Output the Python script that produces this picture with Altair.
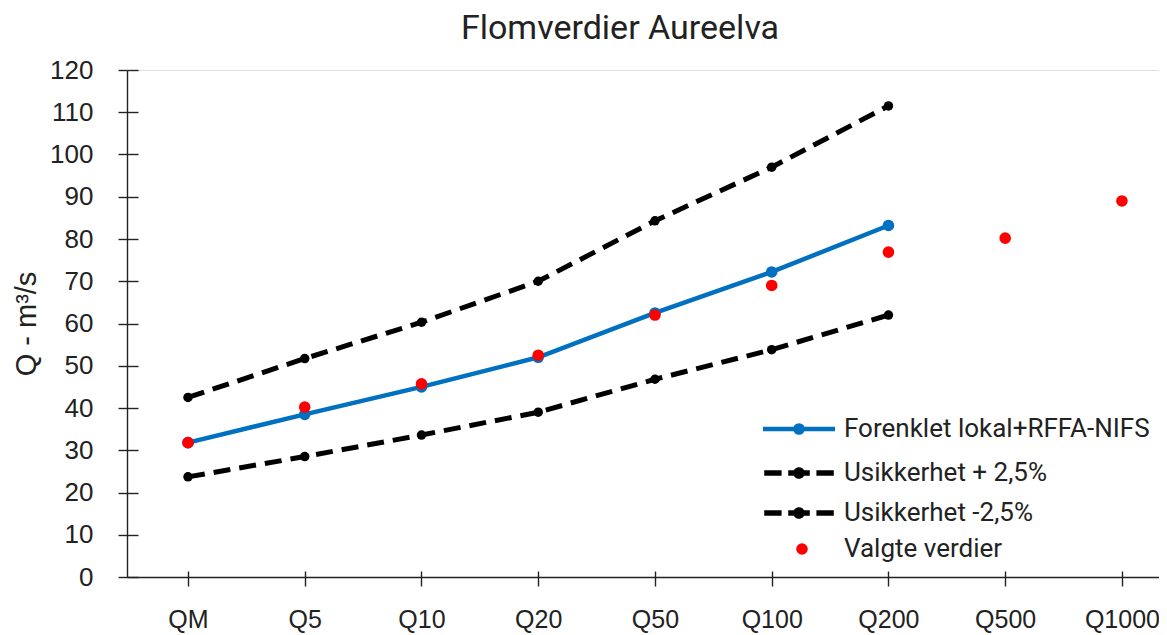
import altair as alt
import pandas as pd

categories = ["QM", "Q5", "Q10", "Q20", "Q50", "Q100", "Q200", "Q500", "Q1000"]
forenklet = [31.8, 38.5, 45.0, 52.0, 62.5, 72.2, 83.2]
usikker_pluss = [42.5, 51.7, 60.3, 70.0, 84.3, 97.0, 111.5]
usikker_minus = [23.7, 28.5, 33.6, 39.0, 46.8, 53.8, 62.0]
valgte = [31.8, 40.2, 45.7, 52.5, 62.0, 69.0, 76.9, 80.2, 89.0]

name_main = "Forenklet lokal+RFFA-NIFS"
names_unc = ["Usikkerhet + 2,5%", "Usikkerhet -2,5%"]
point_label = "Valgte verdier"
blue = "#0070C0"

main_df = pd.DataFrame({"kat": categories[:len(forenklet)], "Q": forenklet, "serie": name_main})
unc_rows = []
for name, vals in zip(names_unc, [usikker_pluss, usikker_minus]):
    for c, v in zip(categories, vals):
        unc_rows.append({"kat": c, "Q": v, "serie": name})
unc_df = pd.DataFrame(unc_rows)
pts_df = pd.DataFrame({"kat": categories, "Q": valgte, "serie": point_label})

FONT = "Liberation Sans"
LFONT = "Roboto"
AX = "#222"

xscale = alt.Scale(type="point", domain=categories, padding=0.42, align=0.622, round=False)
yscale = alt.Scale(domain=[0, 120], nice=False)
xenc = alt.X("kat:N", sort=categories, scale=xscale,
             axis=alt.Axis(title=None, labelAngle=0, labelFont=FONT, labelFontSize=25,
                           labelColor=AX, domainColor=AX, tickColor=AX,
                           tickSize=9, labelPadding=21, grid=False, domainWidth=1.4,
                           tickWidth=1.4))
yenc = alt.Y("Q:Q", scale=yscale,
             axis=alt.Axis(title="Q - m³/s", values=list(range(0, 121, 10)),
                           titleFont=FONT, titleFontSize=29, titleFontWeight="normal",
                           titleColor=AX, titlePadding=8,
                           labelFont=FONT, labelFontSize=26, labelColor=AX,
                           domainColor=AX, tickColor=AX, tickSize=9,
                           labelPadding=25, grid=False, domainWidth=1.4, tickWidth=1.4))
# inner halves of the crossing tick marks
x_inner = alt.X("kat:N", sort=categories, scale=xscale,
                axis=alt.Axis(title=None, labels=False, domain=False, orient="bottom",
                              offset=-6, tickSize=6, tickColor=AX, tickWidth=1.4, grid=False))
y_inner = alt.Y("Q:Q", scale=yscale,
                axis=alt.Axis(title=None, labels=False, domain=False, orient="left",
                              values=list(range(0, 121, 10)), offset=-11, tickSize=11,
                              tickColor=AX, tickWidth=1.4, grid=False))
xonly = alt.X("kat:N", sort=categories, scale=xscale, axis=None)
yonly = alt.Y("Q:Q", scale=yscale, axis=None)

path_solid = "M-6,0H6M-0.6,0a0.6,0.6 0 1,0 1.2,0a0.6,0.6 0 1,0 -1.2,0"
path_dashed = ("M-5.8,0H-2.9M-1.8,0H1.8M2.9,0H5.8"
               "M-0.5,0a0.5,0.5 0 1,0 1,0a0.5,0.5 0 1,0 -1,0")

leg_common = dict(title=None, orient="none", labelFont=LFONT, labelFontSize=26,
                  labelColor=AX, labelLimit=0, padding=0, symbolSize=144,
                  labelOffset=32)

main_line = alt.Chart(main_df).mark_line(strokeWidth=4.5).encode(
    x=xenc, y=yenc,
    stroke=alt.Stroke("serie:N", scale=alt.Scale(domain=[name_main], range=[blue]),
                      legend=alt.Legend(legendX=659, legendY=346, symbolType=path_solid,
                                        symbolFillColor=blue, symbolStrokeWidth=4.5,
                                        **leg_common)),
)
main_pts = alt.Chart(main_df).mark_circle(size=135, opacity=1, color=blue).encode(
    x=xonly, y=yonly)

unc_line = alt.Chart(unc_df).mark_line(strokeWidth=5, strokeDash=[17, 9]).encode(
    x=xonly, y=yonly,
    stroke=alt.Stroke("serie:N", scale=alt.Scale(domain=names_unc, range=["#000", "#000"]),
                      legend=alt.Legend(legendX=659, legendY=390, symbolType=path_dashed,
                                        symbolDash=[1, 0], symbolFillColor="#000",
                                        symbolStrokeWidth=5.5, rowPadding=12, **leg_common)),
)
unc_pts = alt.Chart(unc_df).mark_circle(size=90, opacity=1, color="#000").encode(
    x=x_inner, y=y_inner, detail="serie:N")

points = alt.Chart(pts_df).mark_circle(size=135, opacity=1).encode(
    x=xonly, y=yonly,
    fill=alt.Fill("serie:N", scale=alt.Scale(domain=[point_label], range=["#FF0000"]),
                  legend=alt.Legend(title=None, orient="none", legendX=662, legendY=466,
                                    symbolType="circle", symbolSize=135, symbolStrokeWidth=0,
                                    labelFont=LFONT, labelFontSize=26, labelColor=AX,
                                    labelLimit=0, labelOffset=29, padding=0)),
)

chart = alt.layer(main_line, main_pts, unc_line, unc_pts, points).resolve_scale(
    stroke="independent", fill="independent"
).resolve_axis(x="independent", y="independent").properties(
    width=1032, height=507,
    title=alt.TitleParams("Flomverdier Aureelva", font=LFONT, fontSize=34,
                          fontWeight="normal", color=AX, dx=-23, offset=11),
    padding={"left": 119, "top": 62, "right": 0, "bottom": 56},
    autosize=alt.AutoSizeParams(type="none"),
).configure_view(stroke=None).configure(background="white")

chart.save("out.html", embed_options={"renderer": "svg", "actions": False})
